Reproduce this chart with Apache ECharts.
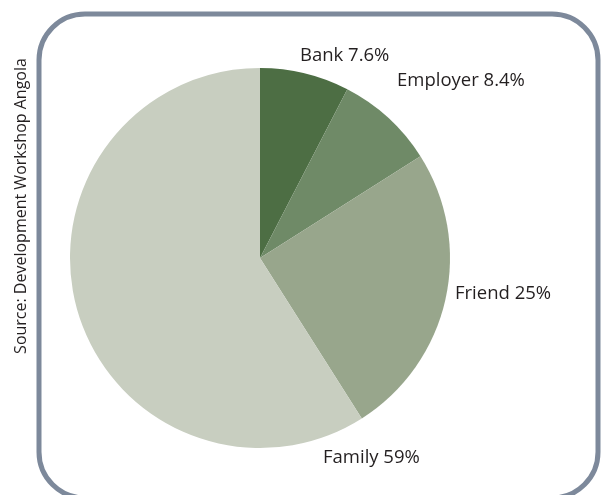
<!DOCTYPE html>
<html>
<head>
<meta charset="utf-8">
<style>
  html, body { margin: 0; padding: 0; background: #ffffff; }
  #chart { width: 602px; height: 495px; }
</style>
<script src="https://cdn.jsdelivr.net/npm/echarts@6/dist/echarts.min.js"></script>
</head>
<body>
<div id="chart"></div>
<script>
// Sources of loans (percent of respondents)
const categories = ['Bank', 'Employer', 'Friend', 'Family'];
const shares = [7.6, 8.4, 25, 59];
const shareLabels = ['7.6%', '8.4%', '25%', '59%'];
const sourceNote = 'Source: Development Workshop Angola';

const sliceColors = ['#4d6e44', '#6f8a67', '#98a68c', '#c8cec0'];
// where each slice's caption sits (left edge, vertical middle)
const labelSpots = [[300, 56], [397, 81], [455, 294], [323, 458]];

const chart = echarts.init(document.getElementById('chart'), null, { renderer: 'canvas' });

chart.setOption({
  animation: false,
  backgroundColor: '#ffffff',
  graphic: [
    {
      type: 'rect',
      shape: { x: 39, y: 14, width: 559, height: 484, r: 46 },
      style: { fill: 'none', stroke: '#7d899b', lineWidth: 5 },
      z: 1
    },
    {
      type: 'text',
      x: 21,
      y: 206,
      rotation: Math.PI / 2,
      style: {
        text: sourceNote,
        font: '16px "Open Sans", "Noto Sans", sans-serif',
        fill: '#231f20',
        align: 'center',
        verticalAlign: 'middle'
      },
      z: 2
    }
  ],
  series: [{
    type: 'pie',
    center: [260, 258],
    radius: [0, 190],
    startAngle: 90,
    clockwise: true,
    avoidLabelOverlap: false,
    itemStyle: { borderWidth: 0 },
    label: {
      show: true,
      position: 'outside',
      formatter: p => p.name + ' ' + shareLabels[p.dataIndex],
      color: '#231f20',
      fontFamily: '"Open Sans", "Noto Sans", sans-serif',
      fontSize: 18.5
    },
    labelLine: { show: false },
    labelLayout: params => {
      const s = labelSpots[params.dataIndex];
      return { x: s[0], y: s[1], align: 'left', verticalAlign: 'middle' };
    },
    emphasis: { disabled: true },
    data: categories.map((name, i) => ({
      name: name,
      value: shares[i],
      itemStyle: { color: sliceColors[i] }
    }))
  }]
});
</script>
</body>
</html>
